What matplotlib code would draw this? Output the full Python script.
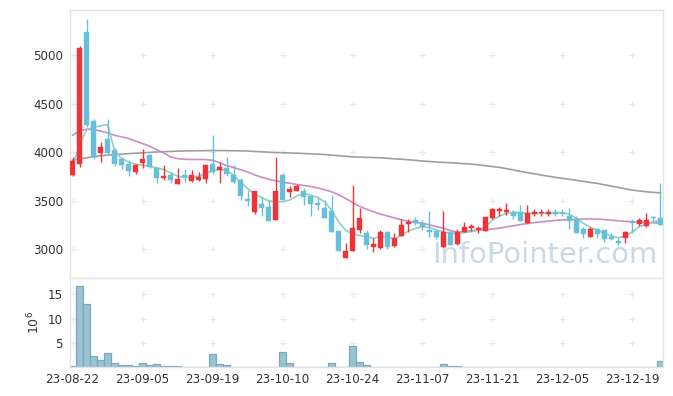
import matplotlib
matplotlib.use("Agg")
import matplotlib.pyplot as plt
from matplotlib.ticker import FixedLocator

dates = ["23-08-22","23-08-23","23-08-24","23-08-25","23-08-28","23-08-29","23-08-30","23-08-31",
         "23-09-01","23-09-04","23-09-05","23-09-06","23-09-07","23-09-08","23-09-11","23-09-12",
         "23-09-13","23-09-14","23-09-15","23-09-18","23-09-19","23-09-20","23-09-21","23-09-22",
         "23-09-25","23-09-26","23-09-27","23-10-04","23-10-05","23-10-06","23-10-10","23-10-11",
         "23-10-12","23-10-13","23-10-16","23-10-17","23-10-18","23-10-19","23-10-20","23-10-23",
         "23-10-24","23-10-25","23-10-26","23-10-27","23-10-30","23-10-31","23-11-01","23-11-02",
         "23-11-03","23-11-06","23-11-07","23-11-08","23-11-09","23-11-10","23-11-13","23-11-14",
         "23-11-15","23-11-16","23-11-17","23-11-20","23-11-21","23-11-22","23-11-23","23-11-24",
         "23-11-27","23-11-28","23-11-29","23-11-30","23-12-01","23-12-04","23-12-05","23-12-06",
         "23-12-07","23-12-08","23-12-11","23-12-12","23-12-13","23-12-14","23-12-15","23-12-18",
         "23-12-19","23-12-20","23-12-21","23-12-22","23-12-26"]

opens = [3761,3875,5233,4317,3985,4132,4019,3926,3875,3795,3888,3967,3840,3727,3761,3672,3761,3703,3710,3720,
         3875,3813,3830,3761,3710,3514,3384,3463,3429,3298,3761,3590,3600,3600,3545,3476,3419,3391,3185,2904,
         2979,3195,3161,3024,3013,3172,3031,3137,3257,3298,3264,3195,3185,3024,3172,3048,3178,3219,3195,3188,
         3322,3394,3377,3377,3377,3271,3357,3367,3357,3384,3374,3340,3305,3202,3120,3202,3195,3127,3086,3110,
         3275,3257,3240,3330,3322]
highs = [3950,5090,5374,4345,4098,4345,4040,3940,3916,3875,4026,3975,3850,3870,3796,3830,3820,3813,3792,3870,
         4173,3892,3944,3864,3730,3607,3600,3538,3504,3944,3785,3648,3669,3631,3545,3538,3504,3556,3185,3065,
         3659,3419,3195,3110,3195,3185,3161,3306,3306,3333,3298,3391,3190,3391,3185,3202,3281,3260,3240,3333,
         3425,3435,3470,3400,3453,3453,3408,3415,3408,3408,3408,3419,3340,3230,3230,3210,3195,3160,3127,3190,
         3306,3320,3367,3340,3676]
lows = [3751,3847,4260,3933,3898,3977,3860,3820,3754,3772,3840,3840,3676,3715,3676,3665,3693,3695,3705,3682,
        3772,3682,3751,3680,3504,3442,3357,3340,3291,3298,3504,3532,3600,3453,3343,3401,3322,3178,2983,2904,
        2979,3170,2997,2973,2997,2997,3017,3137,3178,3247,3195,3127,3103,3024,3041,3040,3178,3188,3161,3185,
        3312,3343,3350,3312,3291,3271,3336,3336,3336,3343,3345,3202,3161,3110,3120,3110,3075,3090,3041,3065,
        3161,3240,3230,3290,3247]
closes = [3909,5075,4276,3950,4053,3991,3875,3864,3806,3864,3923,3847,3727,3751,3710,3723,3738,3761,3738,3864,
          3789,3844,3772,3693,3548,3494,3597,3419,3291,3597,3504,3617,3648,3538,3463,3453,3322,3178,2983,2979,
          3219,3316,3041,3051,3172,3017,3116,3247,3281,3264,3223,3175,3127,3172,3041,3172,3223,3240,3219,3326,
          3408,3412,3401,3343,3291,3367,3384,3384,3377,3360,3357,3291,3161,3151,3209,3151,3103,3103,3058,3172,
          3268,3298,3298,3322,3247]

ma5 = [3850,4080,4225,4258,4269,4283,4019,3933,3898,3875,3864,3854,3837,3820,3785,3751,3738,3738,3751,3779,
       3806,3820,3813,3761,3693,3624,3566,3532,3497,3487,3487,3504,3545,3573,3556,3532,3487,3401,3281,3195,
       3155,3140,3127,3110,3127,3127,3100,3144,3185,3213,3230,3223,3195,3178,3161,3161,3168,3178,3195,3230,
       3298,3340,3367,3377,3374,3367,3367,3367,3367,3374,3377,3357,3316,3264,3223,3195,3161,3134,3117,3134,
       3178,3230,3257,3281,3298]
ma20 = [4173,4217,4235,4230,4217,4197,4173,4156,4139,4114,4087,4060,4026,3991,3950,3932,3925,3923,3923,3922,
        3915,3890,3860,3841,3818,3795,3765,3740,3720,3703,3690,3678,3666,3655,3645,3630,3612,3590,3560,3522,
        3480,3440,3410,3385,3360,3340,3320,3300,3285,3275,3264,3250,3230,3213,3190,3172,3180,3188,3195,3200,
        3207,3215,3228,3240,3252,3262,3272,3280,3288,3295,3300,3303,3306,3308,3310,3308,3303,3297,3290,3285,
        3281,3277,3273,3270,3268]
ma60 = [3916,3928,3940,3950,3962,3968,3973,3978,3983,3987,3992,3996,4000,4003,4006,4009,4011,4012,4013,4014,
        4015,4015,4014,4013,4012,4010,4006,4002,3998,3995,3993,3990,3988,3985,3981,3978,3974,3968,3962,3956,
        3950,3947,3945,3943,3940,3935,3930,3925,3920,3914,3907,3902,3897,3893,3889,3885,3880,3875,3868,3858,
        3850,3841,3828,3815,3800,3787,3775,3762,3750,3738,3728,3718,3708,3697,3686,3676,3662,3648,3634,3620,
        3607,3598,3590,3584,3579]

volumes_m = [0.15,16.7,13.0,2.3,1.5,2.9,0.8,0.4,0.4,0.15,0.8,0.4,0.6,0.15,0.15,0.15,0.1,0.1,0.0,0.1,
             2.6,0.6,0.4,0.1,0.1,0.1,0.1,0.1,0.1,0.1,3.2,0.8,0.1,0.1,0.1,0.1,0.1,0.8,0.1,0.1,
             4.4,1.0,0.4,0.1,0.1,0.1,0.1,0.1,0.0,0.0,0.0,0.1,0.0,0.6,0.15,0.15,0.0,0.0,0.0,0.0,
             0.1,0.1,0.0,0.0,0.1,0.0,0.0,0.0,0.0,0.0,0.0,0.0,0.0,0.0,0.0,0.0,0.0,0.0,0.1,0.0,
             0.1,0.0,0.1,0.0,1.3]

price_ticks = [3000, 3500, 4000, 4500, 5000]
vol_ticks = [5, 10, 15]
label_step = 10

UP = "#ee3339"
DOWN = "#66c0dc"
SPINE = "#e3e3e3"
TXT = "#333333"

plt.rcParams["font.family"] = ["DejaVu Sans"]

fig = plt.figure(figsize=(6.73, 3.96), dpi=100)
ax = fig.add_axes([70/673, 1-278/396, 593/673, 268/396])
axv = fig.add_axes([70/673, 1-367/396, 593/673, 89/396])

n = len(closes)
xs = list(range(n))
tick_idx = list(range(0, n, label_step))

for a in (ax, axv):
    a.set_xlim(-0.36, 84.36)
    for s in a.spines.values():
        s.set_color(SPINE)
        s.set_linewidth(1.0)
    a.tick_params(length=0, labelsize=8.6, labelcolor=TXT, pad=5)
    a.set_facecolor("white")
axv.tick_params(axis="x", pad=4)

# grid "+" marks
ax.set_ylim(2701, 5464)
for t in tick_idx:
    ax.scatter([t]*len(price_ticks), price_ticks, marker="+", s=22, c="#e6e6e6", linewidths=0.8, zorder=0.5)

# watermark
ax.text(83.6, 2790, "InfoPointer.com", fontsize=20.8, color="#c9dae5", ha="right", va="bottom", zorder=0.6)

# moving averages
ax.plot(xs, ma60, color="#9e9e9e", lw=1.2, zorder=2)
ax.plot(xs, ma20, color="#cc8dc6", lw=1.2, zorder=2)
ax.plot(xs, ma5, color="#8fd1c4", lw=1.2, zorder=2)

# candles
for i in xs:
    o, h, l, c = opens[i], highs[i], lows[i], closes[i]
    col = UP if c >= o else DOWN
    ax.vlines(i, l, h, color=col, lw=1.0, zorder=3)
    bot = min(o, c)
    hgt = max(abs(c - o), 8)
    ax.bar(i, hgt, bottom=bot, width=0.72, color=col, edgecolor=col, lw=0.3, zorder=4)

ax.yaxis.set_major_locator(FixedLocator(price_ticks))
ax.xaxis.set_major_locator(FixedLocator(tick_idx))
ax.set_xticklabels([])

# volume
axv.set_ylim(0, 18.4)
for t in tick_idx:
    axv.scatter([t]*len(vol_ticks), vol_ticks, marker="+", s=22, c="#e6e6e6", linewidths=0.8, zorder=0.5)
axv.bar(xs, volumes_m, width=1.0, color="#9ac2d3", edgecolor="#78a9c0", lw=0.9, zorder=2)
axv.yaxis.set_major_locator(FixedLocator(vol_ticks))
axv.xaxis.set_major_locator(FixedLocator(tick_idx))
axv.set_xticklabels([dates[i] for i in tick_idx])
axv.set_ylabel(r"$10^6$", fontsize=9, color=TXT, labelpad=4)

fig.savefig("out.png", dpi=100)
